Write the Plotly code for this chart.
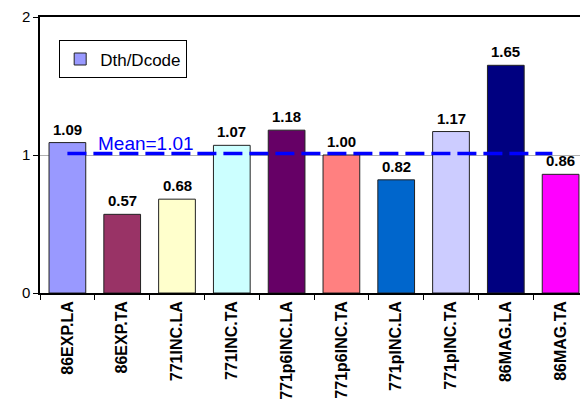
import plotly.graph_objects as go

categories = ["86EXP.LA", "86EXP.TA", "771INC.LA", "771INC.TA", "771p6INC.LA",
              "771p6INC.TA", "771pINC.LA", "771pINC.TA", "86MAG.LA", "86MAG.TA"]
values = [1.09, 0.57, 0.68, 1.07, 1.18, 1.00, 0.82, 1.17, 1.65, 0.86]
bar_colors = ["#9999FF", "#993366", "#FFFFCC", "#CCFFFF", "#660066",
              "#FF8080", "#0066CC", "#CCCCFF", "#000080", "#FF00FF"]
series_name = "Dth/Dcode"
mean_value = 1.01
y_ticks = [0, 1, 2]

FONT = "Liberation Sans, Arial, sans-serif"

fig = go.Figure()
fig.add_trace(go.Bar(
    x=categories, y=values, name=series_name,
    marker=dict(color=bar_colors, line=dict(color="#222222", width=1)),
    showlegend=True,
))

for c, v in zip(categories, values):
    fig.add_annotation(x=c, y=v, text=f"<b>{v:.2f}</b>", showarrow=False,
                       yanchor="bottom", yshift=3,
                       font=dict(family=FONT, size=15, color="black"))

fig.add_shape(type="line", xref="x", yref="y", x0=0, x1=8.85,
              y0=mean_value, y1=mean_value,
              line=dict(color="#0000FF", width=3.5, dash="19px,7px"))
fig.add_annotation(xref="x", yref="y", x=0.52, y=mean_value,
                   text=f"Mean={mean_value:.2f}", showarrow=False,
                   xanchor="left", yanchor="bottom", yshift=-2,
                   font=dict(family=FONT, size=19, color="#0000FF"))

# page body has an 8px default margin: size the figure so the plot area lands
# where the reference has it
fig.update_layout(
    width=580, height=392,
    margin=dict(l=32, r=0, t=8, b=106),
    paper_bgcolor="white", plot_bgcolor="white",
    bargap=0.33,
    font=dict(family=FONT, color="black"),
    legend=dict(x=0.035, y=0.915, xanchor="left", yanchor="top",
                bordercolor="black", borderwidth=1, bgcolor="white",
                font=dict(family=FONT, size=17, color="black"),
                itemwidth=30),
    xaxis=dict(showline=True, linecolor="black", linewidth=1.5, mirror=True,
               ticks="outside", ticklen=5, tickcolor="black", tickson="boundaries",
               tickangle=-90, tickfont=dict(family=FONT, size=16, color="black", weight="bold"),
               showgrid=False),
    yaxis=dict(range=[0, 2], tickvals=y_ticks, showline=True, linecolor="black", linewidth=1.5,
               ticks="outside", ticklen=5, tickcolor="black", ticklabeloverflow="allow",
               showgrid=True, gridcolor="#B0B0B0", gridwidth=1, zeroline=False,
               tickfont=dict(family=FONT, size=15, color="black")),
)

fig.write_html("out.html")
